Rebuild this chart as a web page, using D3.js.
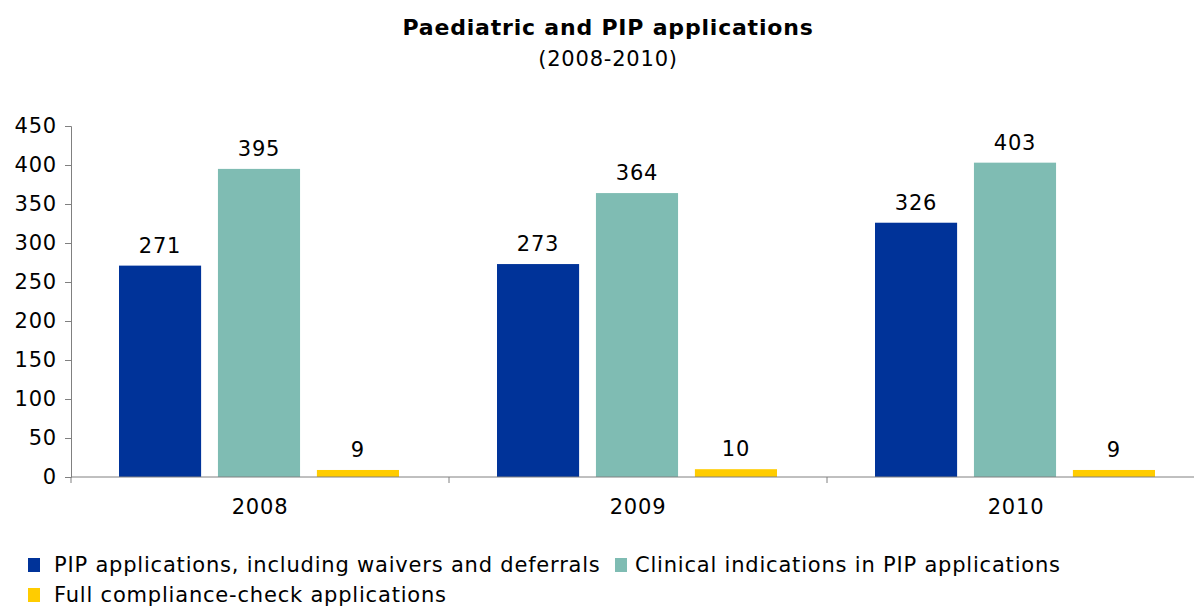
<!DOCTYPE html>
<html>
<head>
<meta charset="utf-8">
<script src="https://cdn.jsdelivr.net/npm/d3@7"></script>
<style>
  body { margin: 0; background: #fff; }
  svg text { font-family: "DejaVu Sans", Verdana, sans-serif; fill: #000; letter-spacing: 0.8px; }
</style>
</head>
<body>
<script>
var years = ["2008", "2009", "2010"];
var seriesNames = ["PIP applications, including waivers and deferrals",
                   "Clinical indications in PIP applications",
                   "Full compliance-check applications"];
var pipApps = [271, 273, 326];
var clinical = [395, 364, 403];
var compliance = [9, 10, 9];
var yTicks = [0, 50, 100, 150, 200, 250, 300, 350, 400, 450];
var colors = ["#003399", "#7fbcb3", "#ffcc00"];

var width = 1194, height = 607;
var margin = {top: 126, left: 71, bottom: 130};
var plotW = 378 * 3;

var svg = d3.select("body").append("svg")
  .attr("width", width)
  .attr("height", height);

var x = d3.scaleBand().domain(years).range([margin.left, margin.left + plotW]);
var x1 = d3.scaleBand().domain(d3.range(3)).range([48, 328]).paddingInner(16 / 94);
var y = d3.scaleLinear().domain([0, 450]).range([477, margin.top]);

// title
svg.append("text").attr("x", 608).attr("y", 35).attr("text-anchor", "middle")
  .style("font-size", "22px").style("font-weight", "bold")
  .text("Paediatric and PIP applications");
svg.append("text").attr("x", 608).attr("y", 66).attr("text-anchor", "middle")
  .style("font-size", "21px").text("(2008-2010)");

var data = years.map(function(yr, i) {
  return {year: yr, values: [pipApps[i], clinical[i], compliance[i]]};
});

var groups = svg.selectAll(".grp").data(data).enter().append("g")
  .attr("transform", function(d) { return "translate(" + x(d.year) + ",0)"; });

groups.selectAll("rect").data(function(d) { return d.values; }).enter().append("rect")
  .attr("x", function(d, i) { return x1(i); })
  .attr("width", x1.bandwidth())
  .attr("y", function(d) { return y(d); })
  .attr("height", function(d) { return y(0) - y(d); })
  .attr("fill", function(d, i) { return colors[i]; });

groups.selectAll(".lbl").data(function(d) { return d.values; }).enter().append("text")
  .attr("x", function(d, i) { return x1(i) + x1.bandwidth() / 2; })
  .attr("y", function(d) { return y(d) - 13; })
  .attr("text-anchor", "middle")
  .style("font-size", "21px")
  .text(function(d) { return d; });

// y axis
var yAxis = svg.append("g").attr("transform", "translate(" + margin.left + ",0)")
  .call(d3.axisLeft(y).tickValues(yTicks).tickSize(6).tickPadding(8));
yAxis.selectAll("text").style("font-size", "21px");

// x axis with ticks on group boundaries
var xAxis = svg.append("g").attr("transform", "translate(0," + y(0) + ")");
xAxis.append("line").attr("x1", margin.left).attr("x2", margin.left + plotW)
  .attr("stroke", "#808080");
var bounds = years.map(function(d) { return x(d); }).concat([margin.left + plotW]);
xAxis.selectAll(".tk").data(bounds).enter().append("line")
  .attr("x1", function(d) { return d; }).attr("x2", function(d) { return d; })
  .attr("y1", 0).attr("y2", 6).attr("stroke", "#808080");
xAxis.selectAll(".yl").data(years).enter().append("text")
  .attr("x", function(d) { return x(d) + x.bandwidth() / 2; })
  .attr("y", 37).attr("text-anchor", "middle")
  .style("font-size", "21px")
  .text(function(d) { return d; });

svg.selectAll(".domain, .tick line").attr("stroke", "#808080");

// legend
var legendPos = [[28, 565, 54], [615, 565, 635], [28, 595, 54]];
var legend = svg.selectAll(".leg").data(seriesNames).enter().append("g")
  .attr("transform", function(d, i) { return "translate(" + legendPos[i][0] + "," + legendPos[i][1] + ")"; });
legend.append("rect").attr("x", 0).attr("y", -7).attr("width", 12).attr("height", 14)
  .attr("fill", function(d, i) { return colors[i]; });
legend.append("text")
  .attr("x", function(d, i) { return legendPos[i][2] - legendPos[i][0]; })
  .attr("y", 7)
  .style("font-size", "21px")
  .text(function(d) { return d; });
</script>
</body>
</html>
